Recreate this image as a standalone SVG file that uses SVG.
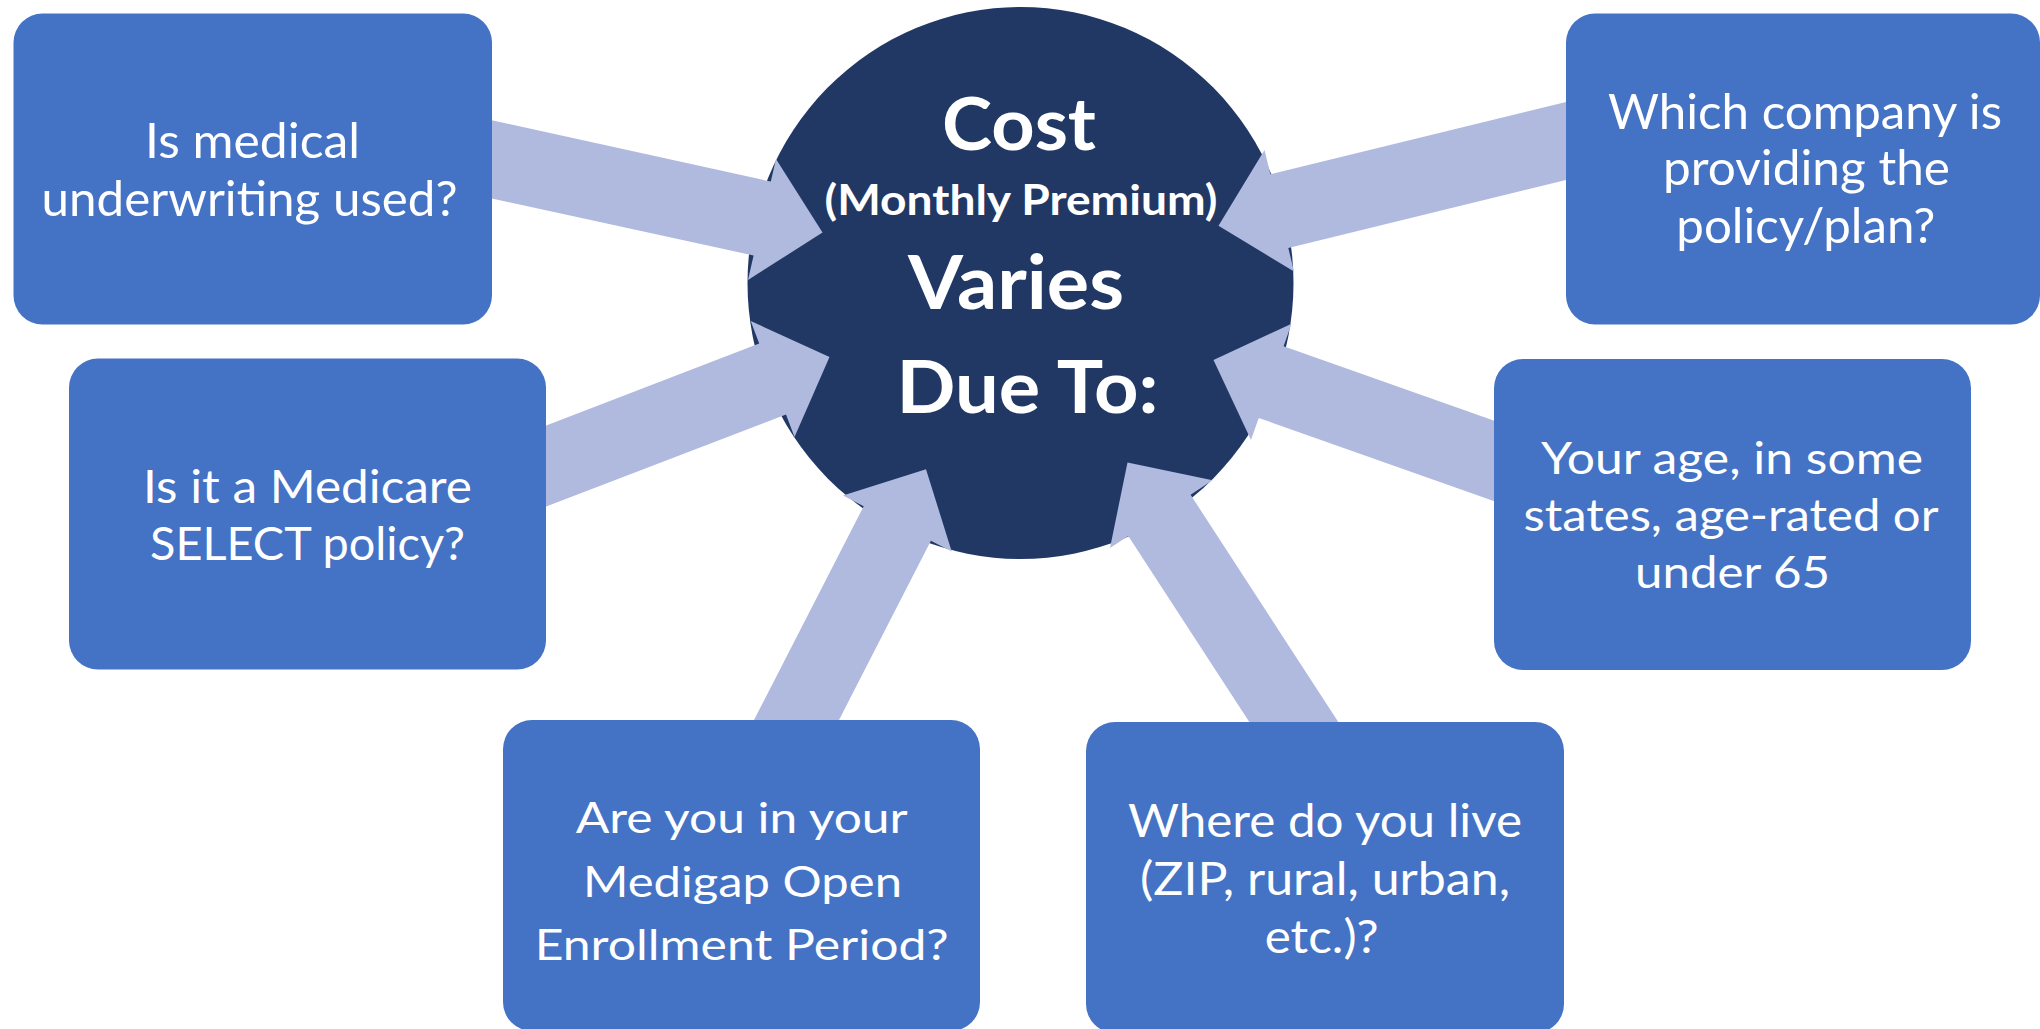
<svg xmlns="http://www.w3.org/2000/svg" width="2040" height="1029" viewBox="0 0 2040 1029">
  <style>
    .hub { fill: #213865; }
    .arrow { fill: #B0BADF; }
    .box { fill: #4472C4; }
    .hubtext { font-family: Lato, "Open Sans", sans-serif; font-weight: 700; fill: #FFFFFF; text-anchor: middle; }
    .label { font-family: Lato, "Open Sans", sans-serif; font-weight: 400; fill: #FFFFFF; text-anchor: middle; }
  </style>

  <rect width="2040" height="1029" fill="#FFFFFF"/>

  <!-- central hub -->
  <g id="hub">
    <ellipse class="hub" cx="1020.5" cy="283" rx="273" ry="276"/>
  </g>

  <!-- converging arrows, drawn above the hub and beneath the boxes -->
  <g id="connectors">
    <polygon class="arrow" points="473.5,116.2 770.8,181.6 776,159 822.5,232.5 748,280 753.6,255.6 473.5,194.4"/>
    <polygon class="arrow" points="531.3,431.2 759.2,343.4 750.7,321 829.5,357 794.5,437 786,414.5 531.3,512.2"/>
    <polygon class="arrow" points="1582.4,98 1270.4,174.2 1264.5,150 1218.5,225.7 1294,271.5 1288.3,247.9 1582.4,176"/>
    <polygon class="arrow" points="1509.9,426.3 1283.6,346.3 1291.5,323.7 1213.5,360 1251,440 1258.7,417.9 1509.9,506.7"/>
    <polygon class="arrow" points="745.9,735.8 863.7,506.2 843,495.5 926,469.2 951.7,551.5 930.9,540.8 830.9,735.8"/>
    <polygon class="arrow" points="1258.9,736.8 1128.3,535.9 1110,548 1127.5,462.5 1212.5,480.3 1190.6,494.8 1347.9,736.8"/>
  </g>

  <!-- hub caption -->
  <g id="hub-caption">
    <text class="hubtext" x="1019" y="150" font-size="72.5" textLength="154" lengthAdjust="spacingAndGlyphs">Cost</text>
    <text class="hubtext" x="1021" y="214.6" font-size="42" textLength="393" lengthAdjust="spacingAndGlyphs">(Monthly Premium)</text>
    <text class="hubtext" x="1016" y="309" font-size="75" textLength="216" lengthAdjust="spacingAndGlyphs">Varies</text>
    <text class="hubtext" x="1027.5" y="412.5" font-size="72.5" textLength="262" lengthAdjust="spacingAndGlyphs">Due To:</text>
  </g>

  <g id="node-underwriting">
    <rect class="box" x="13.5" y="13.5" width="478.5" height="311" rx="29"/>
    <text class="label" font-size="48.5" x="252.5" y="158.3" textLength="215" lengthAdjust="spacingAndGlyphs">Is medical</text>
    <text class="label" font-size="48.5" x="249.5" y="215.5" textLength="416" lengthAdjust="spacingAndGlyphs">underwriting used?</text>
  </g>

  <g id="node-select">
    <rect class="box" x="69" y="358.5" width="477" height="311" rx="29"/>
    <text class="label" font-size="45.5" x="307.5" y="503.3" textLength="329" lengthAdjust="spacingAndGlyphs">Is it a Medicare</text>
    <text class="label" font-size="45.5" x="307.5" y="560" textLength="315" lengthAdjust="spacingAndGlyphs">SELECT policy?</text>
  </g>

  <g id="node-company">
    <rect class="box" x="1566" y="13.5" width="474" height="311" rx="29"/>
    <text class="label" font-size="47.5" x="1805" y="129.3" textLength="394" lengthAdjust="spacingAndGlyphs">Which company is</text>
    <text class="label" font-size="47.5" x="1806.5" y="185" textLength="287" lengthAdjust="spacingAndGlyphs">providing the</text>
    <text class="label" font-size="47.5" x="1805.8" y="243.3" textLength="259" lengthAdjust="spacingAndGlyphs">policy/plan?</text>
  </g>

  <g id="node-age">
    <rect class="box" x="1494" y="359" width="477" height="311" rx="29"/>
    <text class="label" font-size="44" x="1732" y="474" textLength="382" lengthAdjust="spacingAndGlyphs">Your age, in some</text>
    <text class="label" font-size="44" x="1731" y="531" textLength="415" lengthAdjust="spacingAndGlyphs">states, age-rated or</text>
    <text class="label" font-size="44" x="1732.5" y="588.3" textLength="195" lengthAdjust="spacingAndGlyphs">under 65</text>
  </g>

  <g id="node-enrollment">
    <rect class="box" x="503" y="720" width="477" height="311" rx="29"/>
    <text class="label" font-size="42" x="741.7" y="833.3" textLength="332" lengthAdjust="spacingAndGlyphs">Are you in your</text>
    <text class="label" font-size="42" x="742.5" y="896.7" textLength="319" lengthAdjust="spacingAndGlyphs">Medigap Open</text>
    <text class="label" font-size="42" x="741.7" y="960" textLength="414" lengthAdjust="spacingAndGlyphs">Enrollment Period?</text>
  </g>

  <g id="node-location">
    <rect class="box" x="1086" y="722" width="478" height="311" rx="29"/>
    <text class="label" font-size="46" x="1325" y="836.7" textLength="394" lengthAdjust="spacingAndGlyphs">Where do you live</text>
    <text class="label" font-size="46" x="1325" y="895" textLength="370" lengthAdjust="spacingAndGlyphs">(ZIP, rural, urban,</text>
    <text class="label" font-size="46" x="1321.7" y="952.7" textLength="114" lengthAdjust="spacingAndGlyphs">etc.)?</text>
  </g>
</svg>
